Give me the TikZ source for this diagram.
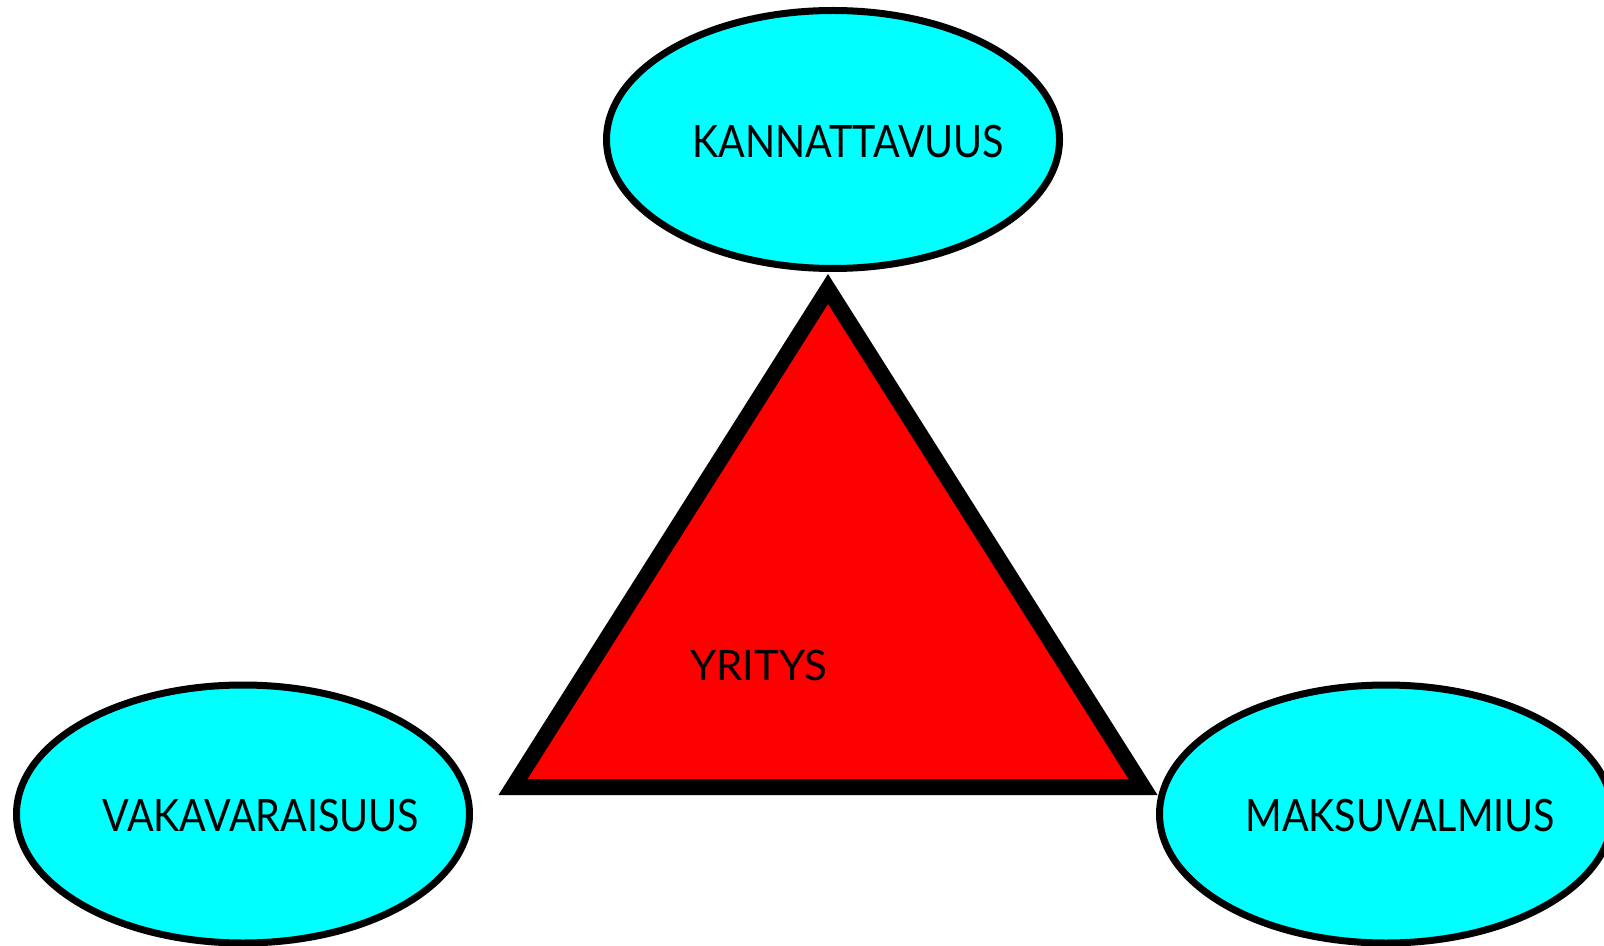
\documentclass[tikz,border=0pt]{standalone}
\usepackage{fontspec}
\setmainfont{Lato}
\newfontfamily\narrowfont[FakeStretch=0.885]{Lato}
\usetikzlibrary{shapes.geometric, positioning}
\definecolor{aqua}{RGB}{0,255,255}
\definecolor{firmred}{RGB}{255,0,0}
\tikzstyle{goal} = [ellipse, minimum width=226.5pt, minimum height=129pt, draw=black, line width=3.5pt, fill=aqua]
\tikzstyle{goaltext} = [anchor=west, inner sep=0pt, font=\narrowfont\fontsize{22.3}{26}\selectfont]
\tikzstyle{firmtext} = [anchor=west, inner sep=0pt, font=\fontsize{21}{25}\selectfont]
\tikzstyle{firm} = [draw=black, line width=8pt, fill=firmred]

\begin{document}
\begin{tikzpicture}[x=0.5pt, y=-0.5pt]
\useasboundingbox (0,0) rectangle (1604,946);
% the company in the middle
\coordinate (top) at (828,289);
\coordinate (left) at (513,787);
\coordinate (right) at (1143,787);
\draw [firm] (top) -- (right) -- (left) -- cycle;
\node (yritys) [firmtext] at (690,665.5) {YRITYS};

% the three goals round it
\node (kann) [goal] at (833,139.5) {};
\node (vaka) [goal] at (243,814) {};
\node (maksu) [goal] at (1386,814) {};
\node (kanntext) [goaltext, right=44.5pt of kann.west, yshift=-1pt] {KANNATTAVUUS};
\node (vakatext) [goaltext, right=44.5pt of vaka.west, yshift=-1pt] {VAKAVARAISUUS};
\node (maksutext) [goaltext, right=44.5pt of maksu.west, yshift=-1pt] {MAKSUVALMIUS};
\end{tikzpicture}
\end{document}
